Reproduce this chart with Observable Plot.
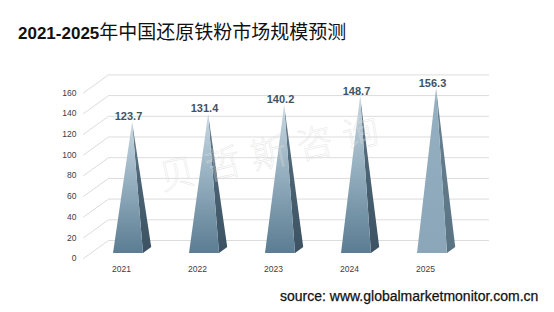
<!DOCTYPE html>
<html><head><meta charset="utf-8">
<script src="https://cdn.jsdelivr.net/npm/d3@7"></script>
<script src="https://cdn.jsdelivr.net/npm/@observablehq/plot@0.6"></script>
<style>
body{margin:0;background:#fff;}
#wrap{width:554px;height:312px;position:relative;overflow:hidden;background:#fff;}
#title{position:absolute;left:18px;top:17px;white-space:nowrap;color:#111;line-height:24px;}
#title .num{font:bold 17px "Liberation Sans",Arial,sans-serif;}
#title .cn{font:400 19px "Noto Sans CJK SC",sans-serif;letter-spacing:0px;}
#chart{position:absolute;left:0;top:50px;}
#source{position:absolute;left:280px;top:288px;font:14px "Liberation Sans",Arial,sans-serif;color:#111;white-space:nowrap;-webkit-text-stroke:0.25px #111;}
</style></head>
<body>
<div id="wrap">
  <div id="title"><span class="num">2021-2025</span><span class="cn">年中国还原铁粉市场规模预测</span></div>
  <div id="chart"></div>
  <div id="source">source: www.globalmarketmonitor.com.cn</div>
</div>
<script>
// ---- data ----
const years = ["2021", "2022", "2023", "2024", "2025"];
const values = [123.7, 131.4, 140.2, 148.7, 156.3];
const yTicks = [0, 20, 40, 60, 80, 100, 120, 140, 160];
const watermark = "贝哲斯咨询";

// ---- 3D projection helpers (depth 0 = front wall, 1 = back wall) ----
const DX = 25 / 76;   // x-units shift for full depth
const DY = 17.4;      // value-units shift for full depth
const HW = 0.197;     // half width of pyramid base (x-units)
const F1 = 0.28, F2 = 0.61, FA = 0.445; // depth of base front, base back, apex
const proj = (x, depth, v) => ({x: x + depth * DX, y: v + depth * DY});

const front = [], side = [], labels = [];
values.forEach((v, i) => {
  const L = proj(i - HW, F1, 0), R = proj(i + HW, F1, 0), A = proj(i, FA, v), B = proj(i + HW, F2, 0);
  front.push({i, x: L.x, y1: L.y, y2: L.y}, {i, x: A.x, y1: L.y, y2: A.y}, {i, x: R.x, y1: R.y, y2: R.y});
  const t = (R.x - A.x) / (B.x - A.x);
  side.push({i, x: A.x, y1: A.y, y2: A.y}, {i, x: R.x, y1: R.y, y2: A.y + t * (B.y - A.y)}, {i, x: B.x, y1: B.y, y2: B.y});
  labels.push({x: proj(i, F1, 0).x, y: A.y, text: v.toFixed(1)});
});

const grid = [];
yTicks.forEach(t => {
  grid.push({t, x: -0.5, y: t});
  const b1 = proj(-0.5, 1, t), b2 = proj(years.length - 0.5, 1, t);
  grid.push({t, x: b1.x, y: b1.y}, {t, x: b2.x, y: b2.y});
});

const defs = () => {
  const ns = "http://www.w3.org/2000/svg";
  const d = document.createElementNS(ns, "defs");
  const mk = (id, stops) => {
    const g = document.createElementNS(ns, "linearGradient");
    g.setAttribute("id", id); g.setAttribute("x1", 0); g.setAttribute("y1", 0); g.setAttribute("x2", 0); g.setAttribute("y2", 1);
    stops.forEach(([o, c]) => { const s = document.createElementNS(ns, "stop"); s.setAttribute("offset", o); s.setAttribute("stop-color", c); g.appendChild(s); });
    d.appendChild(g);
  };
  mk("gFront", [[0, "#c9d8e2"], [0.45, "#96b0c0"], [1, "#5b7c92"]]);
  mk("gSide", [[0, "#6f8797"], [0.4, "#4d6575"], [1, "#3c5262"]]);
  mk("gFront2", [[0, "#95b0c1"], [1, "#8aa6b8"]]);
  mk("gSide2", [[0, "#6a8292"], [1, "#5a7383"]]);
  return d;
};

const chart = Plot.plot({
  width: 554, height: 230,
  marginLeft: 83, marginRight: 91, marginTop: 42.4, marginBottom: 22,
  x: {type: "linear", domain: [-0.5, years.length - 0.5]},
  y: {type: "linear", domain: [0, 160]},
  style: {background: "transparent", overflow: "visible"},
  marks: [
    defs,
    Plot.line(grid, {x: "x", y: "y", z: "t", stroke: "#dcdcdc", strokeWidth: 1}),
    Plot.axisY({ticks: yTicks, tickSize: 0, tickPadding: 7, fontSize: 8.5, fill: "#404040", label: null, fontFamily: "Liberation Sans, Arial, sans-serif"}),
    Plot.axisX({ticks: d3.range(years.length), tickFormat: i => years[i], tickSize: 0, tickPadding: 7, fontSize: 8.5, fill: "#404040", label: null, fontFamily: "Liberation Sans, Arial, sans-serif"}),
    Plot.areaY(side, {filter: d => d.i < 4, x: "x", y1: "y1", y2: "y2", z: "i", fill: "url(#gSide)"}),
    Plot.areaY(side, {filter: d => d.i === 4, x: "x", y1: "y1", y2: "y2", z: "i", fill: "url(#gSide2)"}),
    Plot.areaY(front, {filter: d => d.i < 4, x: "x", y1: "y1", y2: "y2", z: "i", fill: "url(#gFront)"}),
    Plot.areaY(front, {filter: d => d.i === 4, x: "x", y1: "y1", y2: "y2", z: "i", fill: "url(#gFront2)"}),
    Plot.text(labels, {x: "x", y: "y", text: "text", lineAnchor: "bottom", dy: -2, fontSize: 11, fontWeight: "bold", fill: "#3f5366", fontFamily: "Liberation Sans, Arial, sans-serif"}),
    Plot.text([watermark], {frameAnchor: "middle", text: d => d, dx: 1, dy: -22, rotate: -12.6, fontSize: 36, fill: "#ffffff", fillOpacity: 0.15, stroke: "#d2d2d2", strokeOpacity: 0.55, strokeWidth: 0.6, fontFamily: "Noto Sans CJK SC", fontWeight: 300})
  ]
});
chart.querySelectorAll("text").forEach(t => {
  if (t.textContent === watermark) { t.setAttribute("letter-spacing", "11"); t.style.letterSpacing = "11px"; }
});
document.getElementById("chart").appendChild(chart);
</script>
</body></html>
